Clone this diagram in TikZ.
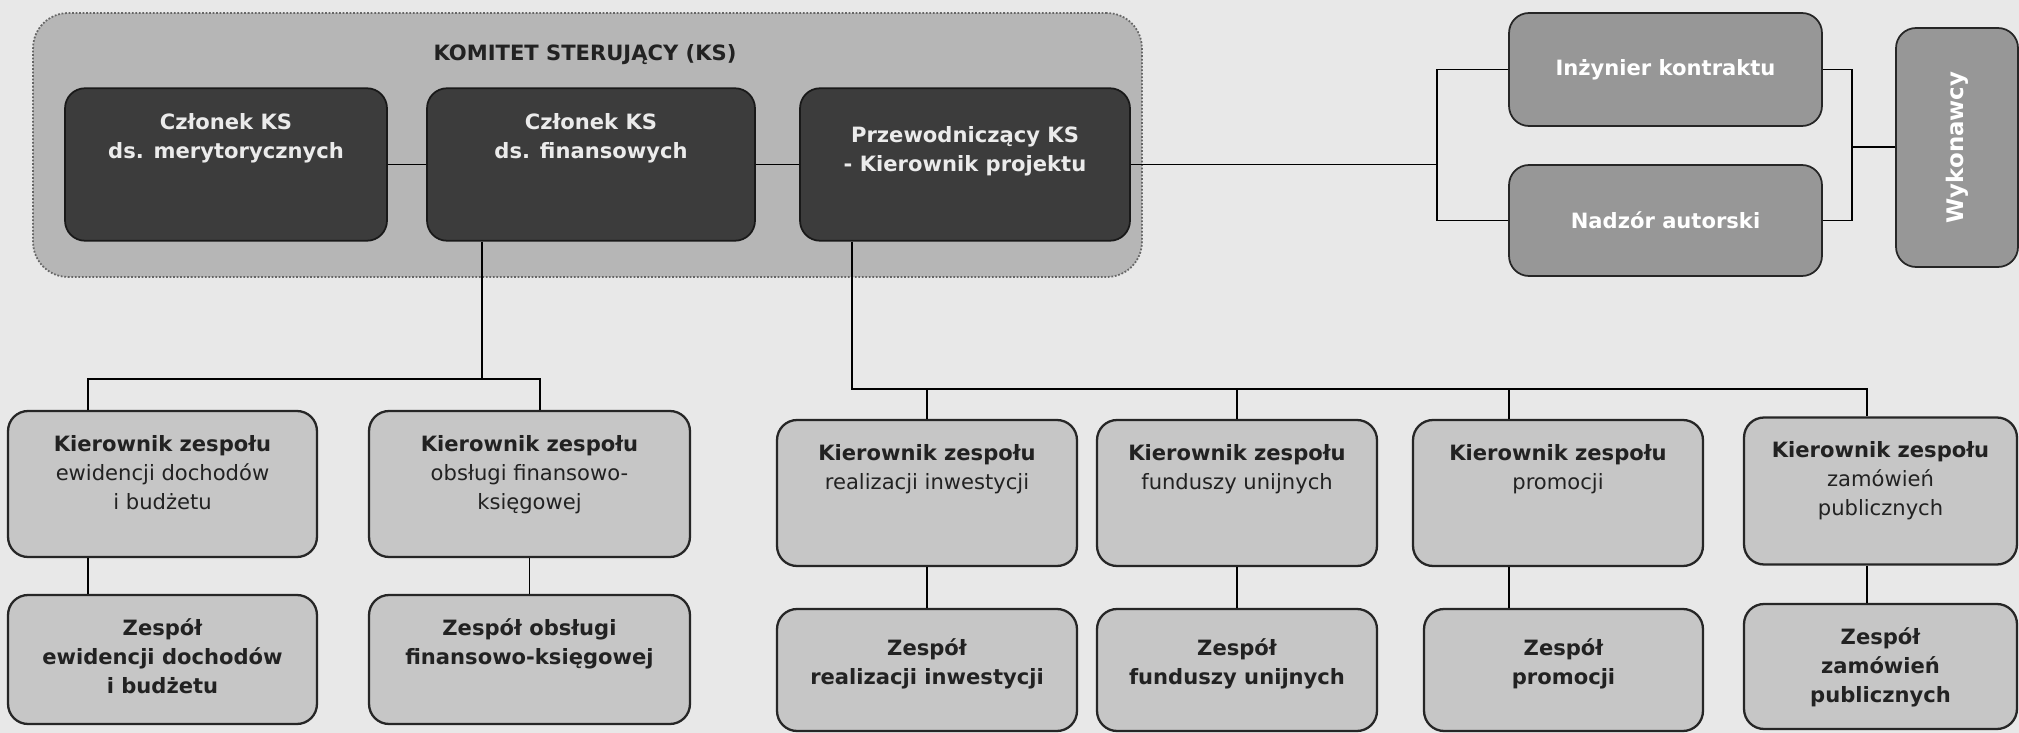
\documentclass[tikz,border=0pt]{standalone}
\usepackage{fontspec}
\usepackage{graphicx}
\setmainfont{DejaVu Sans}
\usetikzlibrary{positioning}
\definecolor{tlo}{HTML}{E8E8E8}
\definecolor{ksfill}{HTML}{B6B6B6}
\definecolor{darkfill}{HTML}{3C3C3C}
\definecolor{midfill}{HTML}{979797}
\definecolor{lightfill}{HTML}{C6C6C6}
\definecolor{ink}{HTML}{222222}

\begin{document}
\begin{tikzpicture}[x=0.02cm, y=-0.02cm,
  ksbox/.style={draw=black!60, densely dotted, line width=1pt, fill=ksfill, rounded corners=0.7cm},
  darkbox/.style={draw=black!90, line width=1pt, fill=darkfill, rounded corners=0.4cm, minimum width=6.5cm, minimum height=3.05cm},
  midbox/.style={draw=black!85, line width=1pt, fill=midfill, rounded corners=0.4cm, text=white, font=\bfseries\fontsize{12}{16.5}\selectfont},
  lightbox/.style={draw=black!85, line width=1.3pt, fill=lightfill, rounded corners=0.4cm},
  tl/.style={anchor=north, inner sep=0pt, align=center, text=ink, font=\fontsize{12}{16.5}\selectfont},
  link/.style={line width=1pt}]
\fill[tlo] (0,0) rectangle (2019,733);
\useasboundingbox (0,0) rectangle (2019,733);

% komitet sterujacy
\node[ksbox, minimum width=22.18cm, minimum height=5.28cm] (ks) at (587.5,145) {};
\node[font=\bfseries\fontsize{12}{16.5}\selectfont, text=ink] (kst) at (585,55) {KOMITET STERUJĄCY (KS)};
\node[darkbox, minimum width=6.44cm, label={[tl, yshift=-0.52cm, text=white!92!black, font=\bfseries\fontsize{12}{16.5}\selectfont]north:{Członek KS\\ds. merytorycznych}}] (m1) at (226,164.5) {};
\node[darkbox, minimum width=6.56cm, label={[tl, yshift=-0.52cm, text=white!92!black, font=\bfseries\fontsize{12}{16.5}\selectfont]north:{Członek KS\\ds. finansowych}}] (m2) at (591,164.5) {};
\node[darkbox, minimum width=6.6cm, label={[tl, yshift=-0.77cm, text=white!92!black, font=\bfseries\fontsize{12}{16.5}\selectfont]north:{Przewodniczący KS\\- Kierownik projektu}}] (prz) at (965,164.5) {};

% prawa strona
\node[midbox, minimum width=6.26cm, minimum height=2.26cm] (inz) at (1665.5,69.5) {Inżynier kontraktu};
\node[midbox, minimum width=6.26cm, minimum height=2.22cm] (nad) at (1665.5,220.5) {Nadzór autorski};
\node[midbox, minimum width=2.44cm, minimum height=4.78cm, font=\bfseries\fontsize{13}{16}\selectfont] (wyk) at (1957,147.5) {\rotatebox{90}{Wykonawcy}};

% zespoly finansowe
\node[lightbox, minimum width=6.18cm, minimum height=2.92cm, label={[tl, yshift=-0.5cm]north:{\textbf{Kierownik zespołu}\\ewidencji dochodów\\i budżetu}}] (kz1) at (162.5,484) {};
\node[lightbox, minimum width=6.42cm, minimum height=2.92cm, label={[tl, yshift=-0.5cm]north:{\textbf{Kierownik zespołu}\\obsługi finansowo-\\księgowej}}] (kz2) at (529.5,484) {};
\node[lightbox, minimum width=6.18cm, minimum height=2.58cm, label={[tl, yshift=-0.48cm, font=\bfseries\fontsize{12}{16.5}\selectfont]north:{Zespół\\ewidencji dochodów\\i budżetu}}] (z1) at (162.5,659.5) {};
\node[lightbox, minimum width=6.42cm, minimum height=2.58cm, label={[tl, yshift=-0.48cm, font=\bfseries\fontsize{12}{16.5}\selectfont]north:{Zespół obsługi\\finansowo-księgowej}}] (z2) at (529.5,659.5) {};

% zespoly projektu
\node[lightbox, minimum width=6cm, minimum height=2.92cm, label={[tl, yshift=-0.5cm]north:{\textbf{Kierownik zespołu}\\realizacji inwestycji}}] (kz3) at (927,493) {};
\node[lightbox, minimum width=5.6cm, minimum height=2.92cm, label={[tl, yshift=-0.5cm]north:{\textbf{Kierownik zespołu}\\funduszy unijnych}}] (kz4) at (1237,493) {};
\node[lightbox, minimum width=5.8cm, minimum height=2.92cm, label={[tl, yshift=-0.5cm]north:{\textbf{Kierownik zespołu}\\promocji}}] (kz5) at (1558,493) {};
\node[lightbox, minimum width=5.46cm, minimum height=2.94cm, label={[tl, yshift=-0.5cm]north:{\textbf{Kierownik zespołu}\\zamówień\\publicznych}}] (kz6) at (1880.5,491) {};
\node[lightbox, minimum width=6cm, minimum height=2.44cm, label={[tl, yshift=-0.6cm, font=\bfseries\fontsize{12}{16.5}\selectfont]north:{Zespół\\realizacji inwestycji}}] (z3) at (927,670) {};
\node[lightbox, minimum width=5.6cm, minimum height=2.44cm, label={[tl, yshift=-0.6cm, font=\bfseries\fontsize{12}{16.5}\selectfont]north:{Zespół\\funduszy unijnych}}] (z4) at (1237,670) {};
\node[lightbox, minimum width=5.58cm, minimum height=2.44cm, label={[tl, yshift=-0.6cm, font=\bfseries\fontsize{12}{16.5}\selectfont]north:{Zespół\\promocji}}] (z5) at (1563.5,670) {};
\node[lightbox, minimum width=5.46cm, minimum height=2.5cm, label={[tl, yshift=-0.48cm, font=\bfseries\fontsize{12}{16.5}\selectfont]north:{Zespół\\zamówień\\publicznych}}] (z6) at (1880.5,666.5) {};

% polaczenia
\coordinate (lb) at (482,379); \coordinate (lb1) at (88,379); \coordinate (lb2) at (540,379);
\coordinate (rb) at (852,389); \coordinate (rbe) at (1867,389); \coordinate (d5) at (1509,389);
\coordinate (brl) at (1437,164.5); \coordinate (brr) at (1852,147);
\draw[link] (m1.east) -- (m2.west); \draw[link] (m2.east) -- (prz.west);
\draw[link] (m2.south -| lb) -- (lb);
\draw[link] (kz1.north -| lb1) -- (lb1) -- (lb2) -- (kz2.north -| lb2);
\draw[link] (kz1.south -| lb1) -- (z1.north -| lb1); \draw[link] (kz2.south) -- (z2.north);
\draw[link] (prz.south -| rb) -- (rb) -- (rbe) -- (kz6.north -| rbe);
\draw[link] (kz3.north) -- (kz3.north |- rb); \draw[link] (kz4.north) -- (kz4.north |- rb); \draw[link] (kz5.north -| d5) -- (d5);
\draw[link] (kz3.south) -- (z3.north); \draw[link] (kz4.south) -- (z4.north);
\draw[link] (kz5.south -| d5) -- (z5.north -| d5); \draw[link] (kz6.south -| rbe) -- (z6.north -| rbe);
\draw[link] (prz.east) -- (brl);
\draw[link] (inz.west) -- (inz.west -| brl) -- (nad.west -| brl) -- (nad.west);
\draw[link] (inz.east) -- (inz.east -| brr) -- (nad.east -| brr) -- (nad.east);
\draw[link] (brr) -- (wyk.west |- brr);
\end{tikzpicture}
\end{document}
